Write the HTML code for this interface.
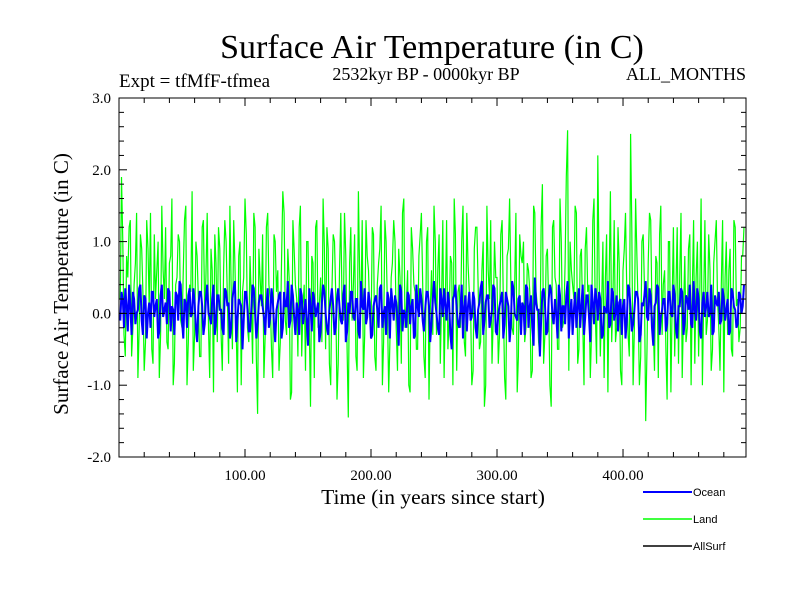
<!DOCTYPE html>
<html><head><meta charset="utf-8"><style>
html,body{margin:0;padding:0;background:#fff;}
svg{display:block;font-family:"Liberation Serif",serif;}
.leg{font-family:"Liberation Sans",sans-serif;font-size:11px;}
</style></head><body>
<svg id="chart" width="800" height="600" viewBox="0 0 800 600" xmlns="http://www.w3.org/2000/svg">
<rect width="800" height="600" fill="#fff"/>
<text x="432" y="58" font-size="34" text-anchor="middle">Surface Air Temperature (in C)</text>
<text x="119" y="87" font-size="19">Expt = tfMfF-tfmea</text>
<text x="426" y="80" font-size="18" text-anchor="middle">2532kyr BP - 0000kyr BP</text>
<text x="746" y="80" font-size="18" text-anchor="end">ALL_MONTHS</text>
<g id="plot"></g>
<g id="axes"></g>
<text x="433" y="504" font-size="21.5" text-anchor="middle">Time (in years since start)</text>
<text transform="translate(68,284) rotate(-90)" font-size="21" text-anchor="middle">Surface Air Temperature (in C)</text>
<g>
<line x1="643" y1="492" x2="692" y2="492" stroke="#0000ff" stroke-width="2"/>
<text class="leg" x="693" y="496">Ocean</text>
<line x1="643" y1="519" x2="692" y2="519" stroke="#00ff00" stroke-width="1.5"/>
<text class="leg" x="693" y="523">Land</text>
<line x1="643" y1="546" x2="692" y2="546" stroke="#000" stroke-width="1.5"/>
<text class="leg" x="693" y="550">AllSurf</text>
</g>
</svg>
<script>
const yTicks=[3.0,2.0,1.0,0.0,-1.0,-2.0];
const yTickLabels=["3.0","2.0","1.0","0.0","-1.0","-2.0"];
const xTicks=[100,200,300,400];
const xTickLabels=["100.00","200.00","300.00","400.00"];
// land values, even years 2,4,...,496
const landEven=[1.9,-0.3,0.8,1.2,-0.6,0.4,1.4,-0.2,0.9,-0.8,1.3,0.1,-0.5,1.1,0.6,-0.9,1.5,0.2,-0.4,0.7,
1.6,-0.7,0.5,1.0,-0.2,1.3,-1.0,0.4,1.7,-0.3,0.8,-0.6,1.2,0.0,1.4,-0.9,0.6,1.1,-0.4,0.9,
-0.8,1.3,0.2,1.5,-0.5,0.7,-1.1,1.0,0.3,1.6,-0.2,0.8,-0.7,1.2,-1.4,0.5,1.1,-0.3,1.4,0.2,
-0.9,1.0,0.6,-0.4,1.7,-0.1,0.9,-1.2,1.3,0.4,-0.6,1.5,0.1,-0.8,1.0,-1.3,0.7,1.2,-0.2,0.5,
1.6,-0.5,0.9,-1.0,1.1,0.3,-0.7,1.4,-0.1,0.8,-1.45,1.2,0.4,-0.6,1.7,0.0,-0.9,1.3,0.6,-0.3,
1.1,-0.8,0.7,1.5,-0.4,1.0,-1.1,0.5,1.3,-0.2,0.9,-0.7,1.6,0.1,-1.0,1.2,0.4,-0.5,0.8,1.4,
-0.6,1.0,-1.2,0.6,1.5,-0.3,1.1,0.2,-0.9,1.3,-0.1,0.7,1.6,-0.8,0.4,1.0,-0.4,1.4,0.3,-1.0,
0.9,1.2,-0.5,0.6,-1.3,1.5,0.2,-0.7,1.0,0.5,-0.3,1.3,-0.9,0.8,1.6,-0.2,0.4,-1.1,1.1,0.7,
-0.4,0.7,0.3,-0.8,1.4,0.1,-0.6,1.8,-0.3,0.9,-1.0,1.2,0.5,-0.5,1.6,-0.2,0.7,2.55,1.0,0.4,
1.5,-0.7,0.8,-0.1,0.9,0.3,-0.9,1.3,0.0,2.2,-0.6,1.0,0.5,-1.1,1.7,0.2,-0.4,1.2,-0.8,0.6,
1.4,-0.3,2.5,-1.0,1.6,0.1,-0.6,1.1,-1.5,0.7,1.3,-0.2,0.8,-0.9,1.5,0.4,-0.5,1.0,-1.1,1.2,
0.3,-0.7,1.4,0.0,-0.4,0.9,-1.0,1.3,0.5,-0.6,1.6,0.2,-0.3,1.1,-0.8,0.7,1.3,-0.2,0.4,-1.1,
1.0,0.6,-0.5,1.3,0.1,-0.4,0.8,1.2];
// land values, odd years 1,3,...,495
const landOdd=[0.2,1.0,-0.6,0.5,1.3,-0.2,0.7,-0.9,1.1,0.3,-0.4,0.9,1.4,-0.7,0.2,1.0,-0.3,0.6,1.2,-0.5,
0.8,-1.0,0.4,1.1,-0.1,0.6,1.5,-0.4,0.3,-0.8,1.0,0.2,-0.6,1.3,0.5,-0.2,0.9,-1.1,0.7,1.2,
-0.3,0.6,1.0,-0.7,0.4,1.3,-0.2,0.8,-1.0,0.5,1.1,-0.4,0.2,1.4,-0.6,0.9,0.1,-0.9,1.2,0.4,
-0.5,1.1,0.3,-0.8,0.7,1.4,-0.3,0.5,-1.1,0.9,0.2,1.2,-0.6,0.4,1.0,-0.2,0.8,-0.9,1.3,0.1,
-0.4,0.9,1.2,-0.7,0.3,1.0,-1.2,0.6,0.2,1.4,-0.5,0.7,-0.1,1.1,-0.8,0.5,1.3,-0.3,0.8,0.0,
1.2,-0.6,0.4,0.9,-1.0,1.3,0.1,-0.4,0.7,1.0,-0.8,0.5,1.4,-0.2,0.6,-1.1,0.9,0.3,-0.5,1.1,
0.4,-0.9,1.2,0.0,-0.3,1.0,0.6,-0.7,1.3,0.2,-0.5,0.8,-1.0,1.1,0.3,-0.2,1.5,-0.6,0.7,0.1,
-0.8,1.2,0.4,-0.4,1.0,-1.0,0.6,1.3,-0.1,0.5,-0.7,1.1,0.2,-1.2,0.9,0.4,-0.3,1.4,-0.6,0.8,
1.0,-0.2,0.6,-0.9,1.5,0.3,-0.4,1.2,-0.7,0.8,0.1,-1.3,1.3,0.4,-0.5,1.0,-0.1,1.9,-0.8,0.6,
0.2,1.4,-0.5,0.9,-1.0,1.2,0.4,-0.3,1.6,-0.7,0.6,0.1,-0.9,1.1,0.5,-0.4,1.3,-0.2,0.7,-1.0,
0.9,0.3,-0.6,1.2,-0.2,0.8,-1.0,1.0,0.4,-0.5,1.4,0.0,-0.8,0.7,1.1,-0.3,0.6,-1.2,1.0,0.2,
-0.6,1.2,0.5,-0.9,0.8,-0.2,1.1,0.3,-0.7,1.0,0.4,-1.0,1.3,-0.1,0.6,-0.5,1.0,0.2,-0.8,1.3,
0.5,-0.3,0.9,-0.6,1.2,0.2,-0.2,0.8];
const oceanEven=[0.3,-0.2,0.1,0.4,-0.3,0.2,0.0,0.35,-0.1,0.25,-0.35,0.15,0.3,-0.05,0.2,-0.25,0.4,0.05,-0.15,0.3,
0.1,-0.3,0.25,0.45,-0.1,0.2,-0.2,0.35,0.0,0.15,-0.4,0.3,0.1,-0.15,0.4,-0.05,0.2,-0.3,0.25,0.05,
-0.2,0.35,0.1,-0.35,0.2,0.45,-0.1,0.15,-0.5,0.3,0.05,-0.25,0.4,0.0,-0.15,0.25,0.1,-0.3,0.35,-0.05,
0.2,-0.4,0.15,0.3,-0.2,0.1,0.45,-0.1,0.25,-0.3,0.05,0.35,-0.15,0.2,-0.45,0.1,0.3,-0.05,0.15,-0.25,
0.4,0.0,-0.3,0.2,0.1,-0.2,0.35,-0.1,0.25,-0.4,0.15,0.3,-0.05,0.2,-0.25,0.45,0.05,-0.15,0.3,-0.35,
0.1,0.25,-0.2,0.4,0.0,-0.3,0.2,0.35,-0.1,0.15,-0.45,0.3,0.05,-0.2,0.25,0.1,-0.35,0.4,-0.05,0.2,
-0.25,0.3,0.1,-0.15,0.45,0.0,-0.3,0.2,0.35,-0.1,0.15,-0.5,0.25,0.05,-0.2,0.4,0.1,-0.25,0.3,-0.05,
0.2,-0.35,0.15,0.45,-0.1,0.25,-0.2,0.05,0.35,-0.3,0.1,0.3,-0.15,0.2,-0.4,0.45,0.0,-0.1,0.25,0.15,
-0.3,0.35,0.1,-0.2,0.5,0.05,-0.6,0.3,0.15,-0.25,0.4,-0.05,0.2,-0.35,0.25,0.1,-0.15,0.45,0.0,-0.3,
0.3,0.1,-0.2,0.4,-0.05,0.25,-0.4,0.15,0.35,-0.1,0.2,-0.3,0.05,0.45,-0.15,0.3,0.0,-0.25,0.2,0.1,
-0.35,0.4,0.05,-0.15,0.3,0.2,-0.3,0.1,0.45,-0.1,0.25,-0.45,0.15,0.35,-0.05,0.2,-0.25,0.3,0.0,0.4,
-0.2,0.1,0.35,-0.3,0.25,0.05,-0.15,0.45,-0.1,0.2,-0.35,0.3,0.1,-0.05,0.4,-0.25,0.15,0.3,-0.1,0.2,
0.05,-0.3,0.35,0.1,-0.2,0.3,0.0,0.4];
const oceanOdd=[-0.1,0.2,0.35,-0.25,0.1,0.3,-0.15,0.05,0.4,-0.3,0.2,0.0,-0.2,0.3,0.1,-0.35,0.25,-0.05,0.15,0.35,
-0.25,0.05,0.3,-0.1,0.4,-0.35,0.15,0.25,-0.05,0.35,-0.2,0.1,0.3,-0.3,0.2,0.0,-0.15,0.4,-0.1,0.25,
0.05,-0.3,0.3,0.15,-0.2,0.35,-0.4,0.2,0.1,-0.1,0.3,-0.25,0.05,0.35,-0.35,0.15,0.25,-0.05,0.1,-0.2,
0.35,-0.15,0.05,0.25,-0.35,0.3,0.1,-0.2,0.4,-0.05,0.15,-0.3,0.25,0.0,-0.1,0.35,-0.25,0.2,0.05,-0.4,
0.15,0.3,-0.2,0.05,0.35,-0.3,0.2,0.1,-0.15,0.4,-0.25,0.0,0.3,-0.1,0.2,-0.35,0.1,0.35,-0.05,0.15,
-0.3,0.2,0.05,0.35,-0.2,0.1,0.3,-0.35,0.15,0.25,-0.1,0.4,-0.25,0.0,0.3,-0.15,0.2,-0.3,0.1,0.35,
-0.1,0.05,0.3,-0.4,0.2,0.15,-0.2,0.35,-0.05,0.1,0.3,-0.3,0.2,0.4,-0.15,0.05,-0.35,0.25,0.1,-0.1,
0.3,-0.2,0.05,0.35,-0.3,0.15,0.25,-0.1,0.4,-0.25,0.0,0.2,-0.35,0.3,0.1,-0.15,0.35,-0.05,0.2,-0.3,
0.1,0.4,-0.2,0.25,-0.45,0.15,0.05,-0.1,0.35,-0.3,0.2,0.3,-0.15,0.0,0.4,-0.25,0.1,0.25,-0.35,0.2,
0.05,-0.2,0.35,0.1,-0.3,0.25,-0.05,0.4,-0.15,0.2,0.3,-0.35,0.1,0.0,-0.2,0.35,-0.1,0.25,0.15,-0.3,
0.2,-0.1,0.35,-0.25,0.05,0.3,-0.4,0.15,0.25,-0.05,0.35,-0.2,0.1,0.4,-0.3,0.05,0.2,-0.15,0.3,-0.05,
0.25,-0.35,0.1,0.3,-0.1,0.2,0.4,-0.2,0.05,0.35,-0.25,0.15,-0.05,0.3,0.0,-0.3,0.25,0.1,-0.15,0.35,
-0.1,0.2,-0.25,0.3,0.05,-0.15,0.25,0.1];

const NS="http://www.w3.org/2000/svg";
const L=119,R=746,T=98,B=457;
const xMin=0,xMax=497.6,yMin=-2,yMax=3;
function xs(v){return L+(v-xMin)/(xMax-xMin)*(R-L);}
function ys(v){return B-(v-yMin)/(yMax-yMin)*(B-T);}
function mk(tag,attrs,parent){const e=document.createElementNS(NS,tag);for(const k in attrs)e.setAttribute(k,attrs[k]);parent.appendChild(e);return e;}
const plot=document.getElementById('plot'),axes=document.getElementById('axes');
const cp=mk('clipPath',{id:'clip'},plot);
mk('rect',{x:L,y:T,width:R-L,height:B-T},cp);
function merge(odd,even){
  const pts=[];
  for(let k=0;k<Math.max(odd.length,even.length);k++){
    if(k<odd.length)pts.push([2*k+1,odd[k]]);
    if(k<even.length)pts.push([2*k+2,even[k]]);
  }
  return pts;
}
function line(pts,color,w,name){
  const p=mk('polyline',{points:pts.map(d=>xs(d[0]).toFixed(1)+','+ys(d[1]).toFixed(1)).join(' '),fill:'none',stroke:color,'stroke-width':w,'clip-path':'url(#clip)'},plot);
  
  
}
line(merge(landOdd,landEven),'#00ff00',1.2,'land-series');
line(merge(oceanOdd,oceanEven),'#0000ff',2,'ocean-series');
const z=mk('line',{x1:L,x2:R,y1:ys(0),y2:ys(0),stroke:'#000','stroke-width':1,'stroke-dasharray':'6,4'},plot);


const fr=mk('rect',{x:L,y:T,width:R-L,height:B-T,fill:'none',stroke:'#000','stroke-width':1},axes);


for(let v=-2;v<=3.001;v+=0.2){
  const y=ys(v),maj=Math.abs(v-Math.round(v))<1e-6,len=maj?8:5;
  mk('line',{x1:L,x2:L+len,y1:y,y2:y,stroke:'#000'},axes);
  mk('line',{x1:R,x2:R-len,y1:y,y2:y,stroke:'#000'},axes);
}
for(let v=20;v<xMax;v+=20){
  const x=xs(v),maj=v%100===0,len=maj?8:5;
  mk('line',{x1:x,x2:x,y1:B,y2:B-len,stroke:'#000'},axes);
  mk('line',{x1:x,x2:x,y1:T,y2:T+len,stroke:'#000'},axes);
}
yTicks.forEach((v,i)=>{
  const t=mk('text',{x:111,y:ys(v)+5,'font-size':15,'text-anchor':'end'},axes);
  t.textContent=yTickLabels[i];
  
  
});
xTicks.forEach((v,i)=>{
  const t=mk('text',{x:xs(v),y:480,'font-size':15,'text-anchor':'middle'},axes);
  t.textContent=xTickLabels[i];
  
  
});
</script>
</body></html>
